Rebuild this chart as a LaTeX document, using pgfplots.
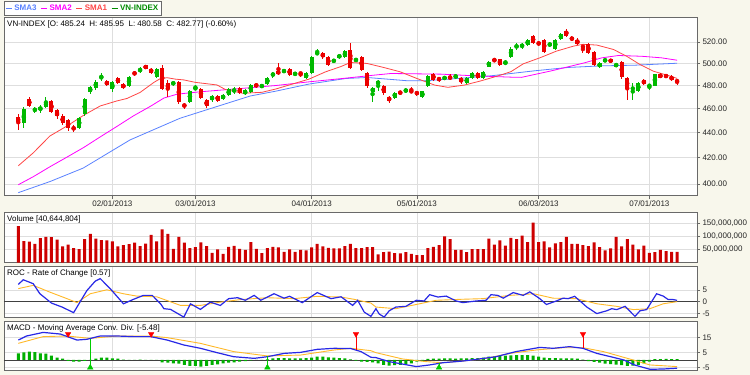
\documentclass[border=0pt]{standalone}
\usepackage{pgfplots}
\pgfplotsset{compat=1.18}
\usepackage{pgfplotstable}
\usepackage{fontspec}
\setmainfont{Liberation Sans}
\definecolor{bg}{RGB}{248,247,236}
\definecolor{gridc}{RGB}{222,222,222}
\definecolor{framec}{RGB}{105,105,105}
\definecolor{upc}{RGB}{0,185,0}
\definecolor{dnc}{RGB}{235,0,0}
\definecolor{sma1}{RGB}{255,70,70}
\definecolor{sma2}{RGB}{255,0,255}
\definecolor{sma3}{RGB}{90,130,255}
\definecolor{volc}{RGB}{205,0,0}
\definecolor{rocc}{RGB}{40,40,230}
\definecolor{sigc}{RGB}{255,185,40}
\definecolor{histc}{RGB}{0,175,0}
\definecolor{legg}{RGB}{0,140,0}

\pgfplotstableread{
i o h l c v m
0 452.5 455 442 448.5 140 4.4
1 447.5 461.7 443.7 459.7 82 5.1
2 468.5 469.5 461 462.2 80 5.6
3 458.3 461.5 456.5 459.3 72 5.3
4 459 463 456.5 461.3 94 4.4
5 461.7 470 460.5 465.7 99 4.2
6 466.3 467.5 456 457 98 2.9
7 458.6 459.5 451 453.8 88 1.6
8 453.8 455 446.5 447.7 62 0.9
9 450 451.5 441.5 443.8 69 -0.6
10 444 446.5 440.5 442.8 55 -1.1
11 444 453 443 452 51 -1.1
12 455 469 454 468.5 90 -0.6
13 474 480 472.5 479 110 0
14 477.7 485 476 483.5 92 0.9
15 486.5 491.5 484 488 86 1.6
16 484 485 479.5 480.3 85 1.6
17 477 484 474 483.3 81 1.1
18 486.5 487.5 481.5 482.6 62 0.9
19 481.5 482.5 476.5 477.5 67 0.2
20 479.6 488.5 479 487.8 71 0
21 491.5 493.5 488.5 490.2 76 0
22 492.8 496.5 491.5 494.9 63 0.3
23 498.2 499 494.5 495.2 73 0
24 495.2 496 490.5 491.4 106 0
25 488 496 487 495 81 0
26 496 498.2 476 476.8 127 -1.6
27 482 484.5 470 476.8 110 -1.8
28 481 484 480 483 52 -2.2
29 483 484 463.5 466 99 -2.4
30 462.8 465 460 462.5 76 -3.3
31 466 476 465 475 55 -4
32 476.8 480.5 476 478 59 -4
33 476.8 477.5 468 469 77 -4.4
34 467.6 468.5 460.5 461.8 63 -4
35 467 472 466 471 37 -3.3
36 471 472 466 466.8 50 -2.9
37 468.5 472.5 467.5 471.4 33 -2.2
38 471.4 477.5 470.5 476.8 60 -1.8
39 475.5 478.5 472.5 476.2 64 -1.6
40 477.5 478.5 472.5 473.3 52 -1.1
41 472.5 476.5 471.5 475.8 49 -0.7
42 474 481.5 473.5 480.8 78 -0.2
43 481.5 482.5 478 478.6 52 0
44 478.6 481.5 477.5 480.6 36 0
45 481.5 487.5 480.5 487 55 0.4
46 488.4 492.5 487 491.5 60 1
47 493.2 500.6 489 490.2 58 1.3
48 492 495 491 494 41 1.3
49 495 496 488.5 489.4 50 1.1
50 489.4 492.5 488.5 491.5 41 1
51 491.5 492.5 487.5 490.5 49 1
52 486.5 492 485.5 491 47 1.3
53 491 507 490.5 506.3 58 1.6
54 508.6 514 507.5 510.2 72 2.2
55 510.2 511 504 505.6 62 2.2
56 506 507 497.5 498.2 56 1.8
57 501.6 504.5 500.5 503.2 54 1.6
58 505.5 509 504.5 507.8 54 1.3
59 506 512.5 505 511.5 63 1.1
60 512.7 519 495 496 72 0.4
61 502 505.5 501 504.5 55 -0.4
62 506 507 493.5 494.4 55 -1.1
63 491.7 492.5 478 479.7 59 -1.3
64 474 479 466 478.2 59 -1.6
65 481.5 484.5 475 483.8 31 -2.2
66 479.5 480.5 472 473.2 40 -3.3
67 470 471 465 466.7 42 -3.8
68 469.4 474.5 468.5 473.4 36 -3.5
69 474.5 475.5 472 472.9 35 -3.3
70 474.5 477.5 473.5 476.8 40 -2.9
71 475 479 473 474.5 33 -2.2
72 474.6 475.5 471 472.2 28 -1.1
73 469.8 475.5 469 474.8 28 -0.4
74 479.6 489 479 488.4 55 0.7
75 490.1 491.5 484 485 60 0.9
76 486.5 488 483.5 485 67 0.9
77 486 488.5 485 487.5 100 1
78 488.4 490 484.5 485.5 90 1
79 487.5 490 486.5 488.5 49 0.9
80 487 488 481 483.3 49 1
81 482.4 487.5 481.5 486.5 40 1.1
82 486.5 492 486 491 51 1.3
83 491 492 486 487 51 1.3
84 487 493 485.5 492.4 51 1.6
85 497 502.5 496.5 501.6 92 2.2
86 503.7 505 501.5 502.1 69 2.4
87 503.7 504.5 498 499 85 2.7
88 500 503 499 501 65 2.9
89 505.6 515 505 514 95 3.1
90 515.5 519 513 516.5 90 3.3
91 516 519.5 514 517 103 3.3
92 517.4 523 516.5 522 78 3.3
93 526.4 527.5 518 519 153 2.9
94 520 521 516.5 518 78 2.2
95 522 523 510 511 81 1.6
96 516.8 520 515.5 519 58 1.3
97 513.6 523 513 522 74 1.3
98 523 529 522 528 78 1.1
99 531 533 525.5 526.4 99 1.1
100 525 526 521 522 72 1
101 522 524.5 517 518 72 0.9
102 516 517 510 515.5 67 0.2
103 518 519 509 509.7 63 -0.7
104 511 512 497.5 498.5 77 -1.3
105 497 501 496 500 59 -1.8
106 501.6 505 501 504 47 -2.4
107 503.7 504.5 500.5 501.3 54 -2.7
108 497.2 500.5 496.5 499.7 99 -3.1
109 501.3 502 486 487.8 62 -3.5
110 486.9 487.5 467.5 476.8 90 -4
111 477 482 467.5 477.8 69 -3.8
112 474.8 483 474 482.5 50 -3.3
113 485 486 480.5 481 65 -2.2
114 479 481.5 476 480.7 37 -1.1
115 480 490.5 479.5 490 40 0.5
116 490 491 486.5 487 49 0.6
117 489.5 490.5 486.5 487.5 44 0.7
118 488 489.5 484 485 41 0.6
119 485.24 485.95 480.58 482.77 40.6 0.5
}\price

\pgfplotsset{panel/.style={
  scale only axis, width=693pt, xmin=-2.58, xmax=122.6,
  axis background/.style={fill=white},
  axis line style={framec, line width=0.8pt},
  xtick={17,32,53,72,94,114}, xticklabels={},
  xmajorgrids, ymajorgrids,
  grid style={gridc, line width=0.6pt},
  ytick pos=right, yticklabel pos=right, xtick pos=bottom,
  tick align=outside, major tick length=3pt,
  tick style={framec, line width=0.6pt},
  ticklabel style={font=\fontsize{8}{9}\selectfont, text=black!85},
  yticklabel style={xshift=-1pt},
  clip=true,
},
candle/.style n args={3}{forget plot, color=#1, draw=#1, only marks, mark=none,
  restrict expr to domain={\thisrow{c}-\thisrow{o}}{#2},
  error bars/.cd, y dir=both, y explicit, error mark=none,
  error bar style={draw=#1, color=#1, line width=#3, solid}},
}

\begin{document}
\begin{tikzpicture}
\useasboundingbox (0pt,0pt) rectangle (750pt,-375pt);
\fill[bg] (0pt,0pt) rectangle (750pt,-375pt);

% ---------------- price panel
\begin{axis}[panel, at={(4pt,-17pt)}, anchor=north west, height=178.7pt,
  ymode=log, ymin=391.6, ymax=544.9,
  ytick={400,420,440,460,480,500,520},
  yticklabels={400.00,420.00,440.00,460.00,480.00,500.00,520.00},
  yminorticks=false,
  xticklabels={02/01/2013,03/01/2013,04/01/2013,05/01/2013,06/03/2013,07/01/2013},
  xticklabel style={yshift=1pt},
  legend style={at={(axis description cs:0,1)}, anchor=south west, yshift=2pt,
    draw=framec, fill=white, inner sep=1.2pt, legend cell align=left,
    font=\bfseries\fontsize{8}{9}\selectfont, legend columns=-1,
    /tikz/every even column/.append style={column sep=2pt}},
  legend image code/.code={\draw[#1, line width=1pt] (0pt,0pt) -- (6pt,0pt);},
]
\addplot[sma3, line width=0.8pt, mark=none] coordinates {
(0,393.8) (5.73,401.9) (11.7,412) (20.2,434.1) (29.2,451.8) (35.8,461.6) (41.9,470.8)
(46.5,475) (52.5,481.3) (59.2,486.3) (63,487.2) (70.4,484.2) (73.4,484.2) (79.4,486.3)
(85.4,488.7) (89,490.8) (93.2,493.2) (99.3,496.3) (105.4,497.8) (111.4,498.4) (119,500.2)};
\addlegendentry{\textcolor{sma3}{SMA3}}
\addplot[sma2, line width=0.8pt, mark=none] coordinates {
(0,399.6) (2.7,405.5) (5.7,413) (8.8,420.5) (11.8,428) (14.8,436.5) (17.8,445) (20.8,453.8)
(23.9,462) (26.3,469) (28.7,472.4) (32.9,474.5) (40.5,477.5) (46.5,480) (52.5,483.3)
(58.6,486.3) (64.3,489.3) (67.3,490.8) (76.4,490.2) (82.4,488.7) (89,487.5) (90.9,487.3)
(96.3,493.2) (102.3,500.6) (105.4,505.2) (108.4,507.4) (112.6,506.7) (116.2,505.2) (119,503)};
\addlegendentry{\textcolor{sma2}{SMA2}}
\addplot[sma1, line width=0.8pt, mark=none] coordinates {
(0,413.8) (2.7,423.8) (5.7,437.2) (8.8,445.4) (11.8,454.3) (14.8,462.2) (17.8,466.5)
(19.6,468.6) (22,473.9) (24.5,482.8) (25.7,486.3) (26.9,487) (28.4,485.7) (29.9,485)
(32,482.8) (35.9,480.5) (37.4,476.5) (40.5,473.2) (44,474) (46.5,476.9) (49.5,481.3)
(52.5,485.7) (55.5,492.3) (58.3,497.2) (60,500.9) (63,500) (66,496.3) (69,492.3) (72,486.3)
(75.2,480.4) (77.6,478.4) (80.6,480.4) (83.6,484.2) (86.7,488.7) (89,492.5) (91.2,499.6)
(94.2,505.2) (97.2,511.5) (100.3,516.3) (102,518) (104.5,517.3) (107.5,513.1) (109.9,506.7)
(112.3,499) (114.7,492.9) (117.2,489.3) (119,486.4)};
\addlegendentry{\textcolor{sma1}{SMA1}}
\addlegendimage{legg}
\addlegendentry{\textcolor{legg}{VN-INDEX}}
% wicks
\addplot[candle={upc}{0:1000}{1pt}]
  table[x=i, y expr={(\thisrow{h}+\thisrow{l})/2}, y error expr={(\thisrow{h}-\thisrow{l})/2}] {\price};
\addplot[candle={dnc}{-1000:-0.0001}{1pt}]
  table[x=i, y expr={(\thisrow{h}+\thisrow{l})/2}, y error expr={(\thisrow{h}-\thisrow{l})/2}] {\price};
% bodies
\addplot[candle={upc}{0:1000}{4pt}]
  table[x=i, y expr={(\thisrow{o}+\thisrow{c})/2}, y error expr={max(abs(\thisrow{c}-\thisrow{o})/2,0.5)}] {\price};
\addplot[candle={dnc}{-1000:-0.0001}{4pt}]
  table[x=i, y expr={(\thisrow{o}+\thisrow{c})/2}, y error expr={max(abs(\thisrow{c}-\thisrow{o})/2,0.5)}] {\price};
\node[anchor=north west, inner sep=0pt, font=\fontsize{8}{9}\selectfont]
  at (rel axis cs:0,1) [xshift=3pt, yshift=-3.5pt]
  {VN-INDEX [O: 485.24\ \ H: 485.95\ \ L: 480.58\ \ C: 482.77] (-0.60\%)};
\end{axis}

% ---------------- volume panel
\begin{axis}[panel, at={(4pt,-212.3pt)}, anchor=north west, height=50.2pt,
  ymin=0, ymax=193, ytick={50,100,150},
  yticklabels={{50,000,000},{100,000,000},{150,000,000}},
  xtick style={draw=none}]
\addplot[ybar, bar width=3pt, fill=volc, draw=none] table[x=i, y=v] {\price};
\node[anchor=north west, inner sep=0pt, font=\fontsize{8}{9}\selectfont]
  at (rel axis cs:0,1) [xshift=3pt, yshift=-3.5pt] {Volume [40,644,804]};
\end{axis}

% ---------------- ROC panel
\begin{axis}[panel, at={(4pt,-266pt)}, anchor=north west, height=51.3pt,
  ymin=-6.7, ymax=15.3, ytick={-5,5}, yticklabels={-5,5},
  extra y ticks={0}, extra y tick labels={0},
  extra y tick style={grid style={black!75, line width=0.8pt}},
  xtick style={draw=none}]
\addplot[sigc, line width=0.9pt, mark=none] coordinates {
(0,5.6) (2.7,7) (5.7,4.1) (8.8,1.3) (10.6,-0.4) (13,3.4) (16,5.1) (19,3.4) (21.4,2.4) (25,2.1)
(29.3,-1.6) (32.9,-1.6) (36.5,-0.2) (40.1,0.9) (44.9,1.7) (49.8,1.3) (54,2.3) (58.3,2) (60.7,1)
(63.7,-0.6) (64.6,-2.3) (68.2,-3) (71.9,-1.2) (75.5,0.6) (79.7,1) (83.9,1.3) (88.8,2.7) (93.1,3.4)
(96.6,1.5) (100.8,1.3) (104.5,-0.9) (108.1,-2) (111.1,-3.4) (114.1,-3) (116.5,-0.9) (119,0)};
\addplot[rocc, line width=1.2pt, mark=none] coordinates {
(0,7.4) (0.9,9.4) (2.7,7.7) (3.9,3.4) (6,-0.6) (7.9,-2.3) (10,-4.7) (12.4,4.8) (13.9,8.8)
(14.8,9.9) (16.6,5.6) (19,-0.9) (20.8,1) (22.6,2.7) (24.2,2.7) (25.7,-0.9) (26.3,-3) (27.5,-3.3)
(29.9,-6.6) (31.1,-0.9) (32.9,-3.3) (34.7,-0.2) (36.5,-1.6) (38,1.3) (39.6,1.7) (41,0.6)
(42.6,2.7) (43.8,0.6) (46.2,3.4) (48,1.5) (49,2.3) (51.3,-0.4) (54,3.9) (56.5,1.3) (58.3,2.1)
(60.4,-1.6) (61.3,0.6) (62.5,-4.5) (63.7,-6.3) (64.6,-3) (65.2,-5.3) (66.1,-6.6) (67,-3.9)
(68.2,-2.3) (70,-2) (71.9,0.6) (73.3,0.3) (74.3,3) (75.8,2) (77.3,2.4) (79.1,0.3) (80.3,-0.4)
(82.7,0.3) (84.5,0.6) (85.4,3) (86.6,2.7) (87.6,1.5) (89.4,3.9) (91.2,2.7) (92.4,4.2) (94.2,1.3)
(95.4,-1.2) (97.2,0.3) (98.4,1.5) (99.3,1.3) (100.5,2.3) (102.7,-2.3) (104.5,-5.1) (106.3,-3.9)
(107.2,-3) (108.1,-3.4) (109.6,-2) (111.4,-6.3) (112.3,-3.9) (113.5,-3.4) (115.3,3.4)
(116.5,2.4) (117.4,0.9) (118.3,0.9) (119,0.57)};
\node[anchor=north west, inner sep=0pt, font=\fontsize{8}{9}\selectfont]
  at (rel axis cs:0,1) [xshift=3pt, yshift=-3.5pt] {ROC - Rate of Change [0.57]};
\end{axis}

% ---------------- MACD panel
\begin{axis}[panel, at={(4pt,-321pt)}, anchor=north west, height=49pt,
  ymin=-6.67, ymax=26, ytick={-5,5,15}, yticklabels={-5,5,15},
  extra y ticks={0}, extra y tick labels={},
  extra y tick style={grid style={black!75, line width=0.8pt}, major tick length=0pt},
  xtick style={draw=none}]
\addplot[ybar, bar width=3pt, fill=histc, draw=none] table[x=i, y=m] {\price};
\addplot[sigc, line width=0.9pt, mark=none] coordinates {
(0,11.1) (4.5,15.6) (8.8,16) (13,14.4) (17.8,16) (23.9,16) (26.9,14.9) (32.9,11.1) (38.9,5.6)
(45,2.7) (51,3.3) (57.1,6.7) (60.1,7.8) (63.7,6.2) (64.6,4.9) (69.4,0.7) (73.7,-1.1) (76.7,-1.8)
(80.3,-0.7) (84.5,1.1) (88.8,4.4) (93.6,6.7) (98.4,8.2) (102,8.2) (105.7,5.6) (110.7,0.4)
(114.1,-3.3) (119,-4.4)};
\addplot[rocc, line width=1.2pt, mark=none] coordinates {
(0,13.3) (1.5,16) (4.5,18.4) (7.6,17.3) (10.6,13.3) (12.4,13.8) (14.8,16) (17.8,16) (20.8,15.6)
(23.9,15.6) (26.9,13.3) (29.9,10) (32.9,7.8) (35.9,4.9) (38.9,2.2) (42.6,1.1) (45,2.2) (48,4.4)
(51,5.1) (54,7.1) (57.1,7.8) (60.1,7.6) (61.9,5.6) (63.7,1.8) (64.6,1.6) (67,-1.1) (69.4,-2.7)
(71.9,-4.4) (74.3,-3.3) (76.7,-1.8) (80.3,-0.7) (82.7,0.4) (86.3,2.2) (89.9,5.6) (94.2,8.4)
(96.6,7.8) (99.6,8.9) (102,7.8) (104.5,4.4) (107,2.2) (109.4,0) (111.3,-3.3) (114.1,-6.2)
(116.5,-6) (119,-5.48)};
% signal lines
\addplot[red, line width=0.8pt, mark=none] coordinates {(9,17.3) (9,15.6)};
\addplot[red, line width=0.8pt, mark=none] coordinates {(24,17.3) (24,15.6)};
\addplot[red, line width=0.8pt, mark=none] coordinates {(61,17.3) (61,6.6)};
\addplot[red, line width=0.8pt, mark=none] coordinates {(102,17.3) (102,7.8)};
\addplot[green!80!black, line width=0.8pt, mark=none] coordinates {(13,-5) (13,14.2)};
\addplot[green!80!black, line width=0.8pt, mark=none] coordinates {(45,-5) (45,2.4)};
\addplot[green!80!black, line width=0.8pt, mark=none] coordinates {(76,-5) (76,-1.9)};
\addplot[only marks, mark=triangle*, mark size=3.2pt,
  mark options={rotate=180, fill=red, draw=red}] coordinates {(9,17.3) (24,17.3) (61,17.3) (102,17.3)};
\addplot[only marks, mark=triangle*, mark size=3.2pt,
  mark options={fill=green!80!black, draw=green!80!black}] coordinates {(13,-5) (45,-5) (76,-5)};
\node[anchor=north west, inner sep=0pt, font=\fontsize{8}{9}\selectfont]
  at (rel axis cs:0,1) [xshift=3pt, yshift=-3.5pt] {MACD - Moving Average Conv. Div. [-5.48]};
\end{axis}
\end{tikzpicture}
\end{document}
